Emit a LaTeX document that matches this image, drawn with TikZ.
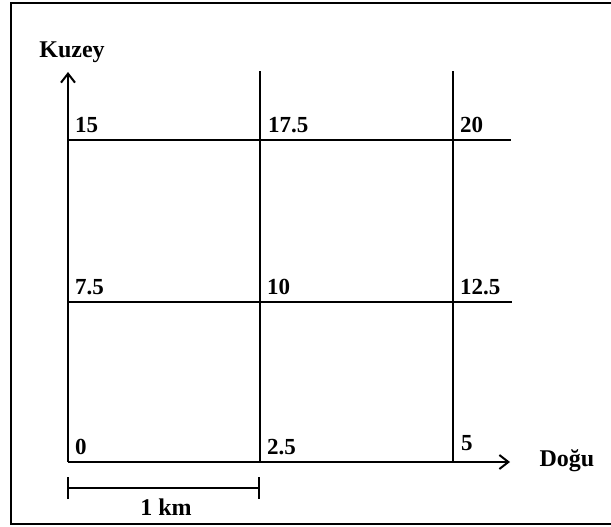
\documentclass[tikz,border=0pt]{standalone}
\usepackage{fontspec}
\setmainfont{Liberation Serif}
\usetikzlibrary{arrows.meta,positioning}

\tikzset{
  gridline/.style={line width=2.4pt},
  corner/.style={anchor=south west,inner sep=0pt,font=\fontsize{23}{25}\selectfont\bfseries},
  axislabel/.style={inner sep=0pt,font=\fontsize{24}{26}\selectfont\bfseries}
}

\begin{document}
\begin{tikzpicture}[x=1pt,y=-1pt,>={Straight Barb[length=9pt,width=14pt,line width=2pt]}]
    \useasboundingbox (0,0) rectangle (611,527);
    % frame
    \draw[line width=2.4pt] (11,3) rectangle (615,524);
    % grid points
    \coordinate (o) at (68,462);
    \coordinate (b1) at (260,462);
    \coordinate (b2) at (453,462);
    \coordinate (m0) at (68,302);
    \coordinate (m1) at (260,302);
    \coordinate (m2) at (453,302);
    \coordinate (t0) at (68,140);
    \coordinate (t1) at (260,140);
    \coordinate (t2) at (453,140);
    \coordinate (ytip) at (68,72);
    \coordinate (xtip) at (510,462);
    \coordinate (v1top) at (260,71);
    \coordinate (v2top) at (453,71);
    \coordinate (m3) at (512,302);
    \coordinate (t3) at (511,140);
    % axes
    \draw[gridline,->] (o) -- (ytip);
    \draw[gridline,->] (o) -- (xtip);
    \node[axislabel] (kuzey) at (72,52) {Kuzey};
    \node[axislabel] (dogu) at (567,461) {Doğu};
    % grid
    \draw[gridline] (b1) -- (v1top);
    \draw[gridline] (b2) -- (v2top);
    \draw[gridline] (m0) -- (m3);
    \draw[gridline] (t0) -- (t3);
    % values
    \node[corner] (v0) at (75,455) {0};
    \node[corner] (v25) at (267,455) {2.5};
    \node[corner] (v5) at (461,451) {5};
    \node[corner] (v75) at (75,295) {7.5};
    \node[corner] (v10) at (267,295) {10};
    \node[corner] (v125) at (460,295) {12.5};
    \node[corner] (v15) at (75,133) {15};
    \node[corner] (v175) at (268,133) {17.5};
    \node[corner] (v20) at (460,133) {20};
    % scale bar
    \coordinate (s0) at (67,488);
    \coordinate (s1) at (260,488);
    \draw[line width=2pt,{Bar[width=22pt]}-{Bar[width=22pt]}] (s0) -- (s1);
    \node[axislabel] (km) at (166,507) {1 km};
\end{tikzpicture}
\end{document}
